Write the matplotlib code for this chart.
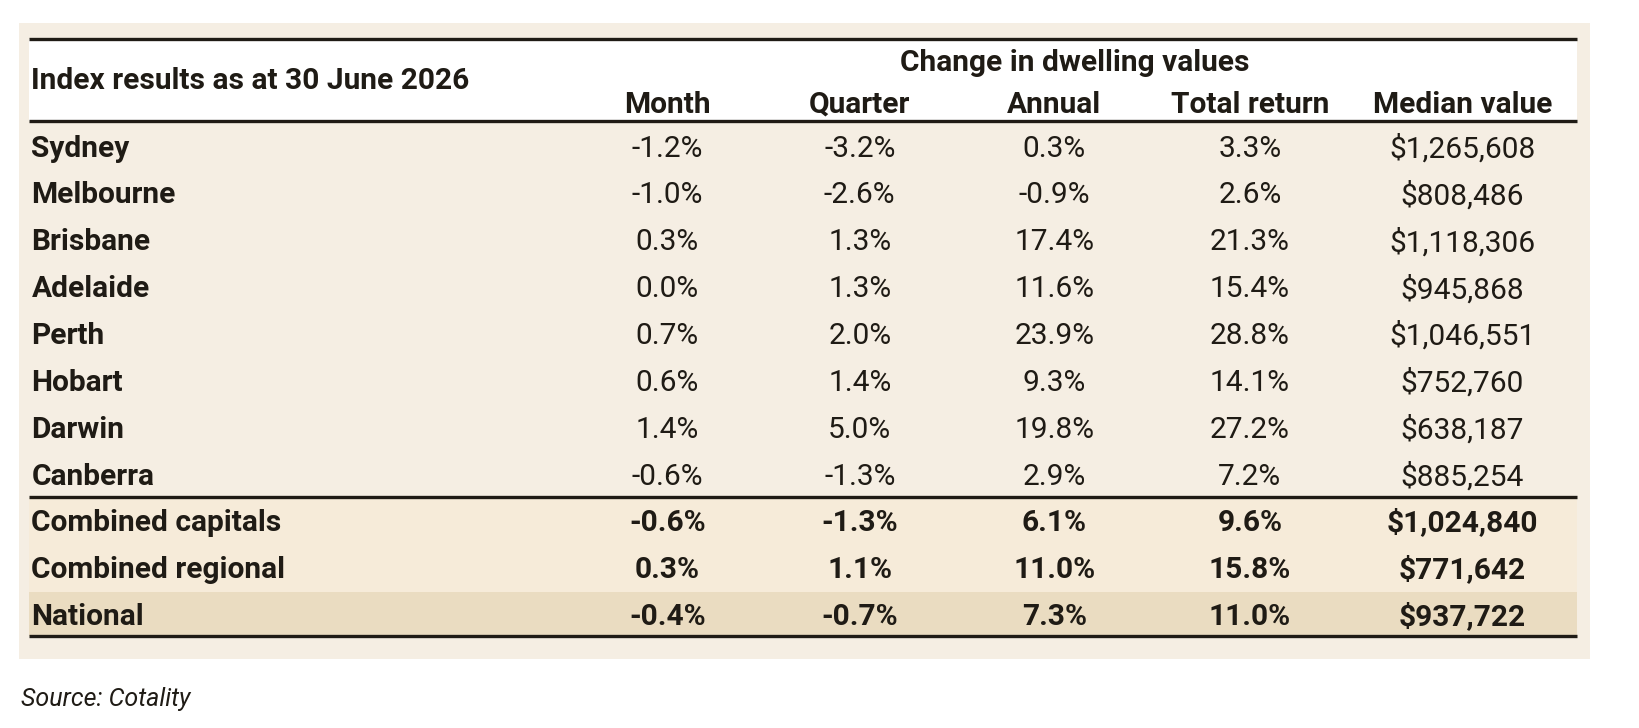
import matplotlib.pyplot as plt
from matplotlib import font_manager
from matplotlib.patches import Rectangle

# table content
cities = ['Sydney', 'Melbourne', 'Brisbane', 'Adelaide', 'Perth', 'Hobart', 'Darwin', 'Canberra']
month = [-1.2, -1.0, 0.3, 0.0, 0.7, 0.6, 1.4, -0.6]
quarter = [-3.2, -2.6, 1.3, 1.3, 2.0, 1.4, 5.0, -1.3]
annual = [0.3, -0.9, 17.4, 11.6, 23.9, 9.3, 19.8, 2.9]
total_return = [3.3, 2.6, 21.3, 15.4, 28.8, 14.1, 27.2, 7.2]
median = [1265608, 808486, 1118306, 945868, 1046551, 752760, 638187, 885254]

summary = ['Combined capitals', 'Combined regional', 'National']
s_month = [-0.6, 0.3, -0.4]
s_quarter = [-1.3, 1.1, -0.7]
s_annual = [6.1, 11.0, 7.3]
s_total = [9.6, 15.8, 11.0]
s_median = [1024840, 771642, 937722]

col_labels = ['Month', 'Quarter', 'Annual', 'Total return', 'Median value']
title = 'Index results as at 30 June 2026'
group_label = 'Change in dwelling values'
source = 'Source: Cotality'

installed = {f.name for f in font_manager.fontManager.ttflist}
fam = 'Liberation Sans Narrow' if 'Liberation Sans Narrow' in installed else 'Roboto'
plt.rcParams['font.family'] = [fam, 'DejaVu Sans']

ink = '#1f1b15'
fig = plt.figure(figsize=(16.4, 7.28), dpi=100)
ax = fig.add_axes([0, 0, 1, 1])
ax.set_xlim(0, 1568)
ax.set_ylim(696, 0)
ax.axis('off')

# backgrounds
ax.add_patch(Rectangle((18, 22), 1502, 608, color='#f5eee3', lw=0))
ax.add_patch(Rectangle((28, 37), 1480, 79, color='white', lw=0))
ax.add_patch(Rectangle((28, 476), 1480, 90, color='#f6ebd9', lw=0))
ax.add_patch(Rectangle((28, 566), 1480, 42, color='#eadcc1', lw=0))

for y in [37, 116, 475, 608]:
    ax.plot([28, 1508], [y, y], color=ink, lw=2.4, solid_capstyle='butt')

col_x = [638, 822, 1008, 1195, 1398]
fs = 21.5

ax.text(30, 77, title, fontsize=fs, fontweight='bold', color=ink, va='center')
ax.text(1028, 60, group_label, fontsize=fs, fontweight='bold', color=ink, ha='center', va='center')
for x, lab in zip(col_x, col_labels):
    ax.text(x, 100, lab, fontsize=fs, fontweight='bold', color=ink, ha='center', va='center')


def pct(v):
    return f'{v:.1f}%'


def dollars(v):
    return f'${v:,}'


row_y = [142 + i * 44.9 for i in range(len(cities))]
for y, name, a, b, c, d, e in zip(row_y, cities, month, quarter, annual, total_return, median):
    ax.text(30, y, name, fontsize=fs, fontweight='bold', color=ink, va='center')
    for x, s in zip(col_x, [pct(a), pct(b), pct(c), pct(d), dollars(e)]):
        ax.text(x, y, s, fontsize=fs, color=ink, ha='center', va='center')

sum_y = [500, 545, 590]
for y, name, a, b, c, d, e in zip(sum_y, summary, s_month, s_quarter, s_annual, s_total, s_median):
    ax.text(30, y, name, fontsize=fs, fontweight='bold', color=ink, va='center')
    for x, s in zip(col_x, [pct(a), pct(b), pct(c), pct(d), dollars(e)]):
        ax.text(x, y, s, fontsize=fs, fontweight='bold', color=ink, ha='center', va='center')

ax.text(20, 668, source, fontsize=18, style='italic', color=ink, va='center')

fig.savefig('out.png', dpi=100)
